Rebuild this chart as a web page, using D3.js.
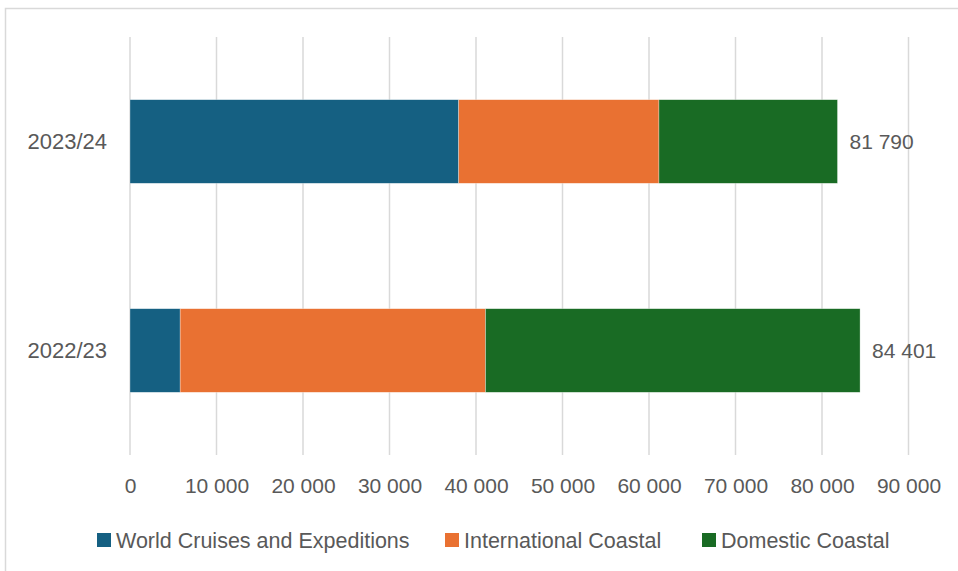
<!DOCTYPE html>
<html>
<head>
<meta charset="utf-8">
<script src="https://cdn.jsdelivr.net/npm/d3@7"></script>
<style>
  html, body { margin: 0; padding: 0; background: #fff; }
  svg { display: block; }
  text { font-family: "Liberation Sans", Arial, sans-serif; fill: #595959; }
</style>
</head>
<body>
<svg id="chart" width="958" height="571"></svg>
<script>
// Passenger numbers by season, stacked by segment
const seasons = ["2023/24", "2022/23"];
const seriesNames = ["World Cruises and Expeditions", "International Coastal", "Domestic Coastal"];
const worldCruises = [38000, 5800];
const internationalCoastal = [23150, 35300];
const domesticCoastal = [20640, 43301];
const totals = [81790, 84401];
const xTicks = [0, 10000, 20000, 30000, 40000, 50000, 60000, 70000, 80000, 90000];
const colors = ["#156082", "#E97132", "#196B24"];

const svg = d3.select("#chart");

// outer chart frame
svg.append("rect")
  .attr("x", 5.5).attr("y", 8.5)
  .attr("width", 1000).attr("height", 600)
  .attr("fill", "none").attr("stroke", "#d9d9d9").attr("stroke-width", 1.5);

const plot = { left: 130, right: 908.5, top: 37, bottom: 455 };

const x = d3.scaleLinear().domain([0, 90000]).range([plot.left, plot.right]);
const y = d3.scaleBand().domain(seasons).range([plot.top, plot.bottom])
  .paddingInner(0.6).paddingOuter(0.3);

// vertical gridlines
svg.append("g").selectAll("line").data(xTicks).join("line")
  .attr("x1", d => x(d)).attr("x2", d => x(d))
  .attr("y1", plot.top).attr("y2", plot.bottom)
  .attr("stroke", "#d9d9d9").attr("stroke-width", 1.5);

// stacked bars
const rows = seasons.map((s, i) => ({
  season: s,
  "World Cruises and Expeditions": worldCruises[i],
  "International Coastal": internationalCoastal[i],
  "Domestic Coastal": domesticCoastal[i]
}));
const stack = d3.stack().keys(seriesNames)(rows);

svg.append("g").selectAll("g").data(stack).join("g")
  .attr("fill", (d, i) => colors[i])
  .selectAll("rect").data(d => d).join("rect")
  .attr("x", d => x(d[0]))
  .attr("y", d => y(d.data.season))
  .attr("width", d => x(d[1]) - x(d[0]))
  .attr("height", y.bandwidth())
  .attr("stroke", "#ffffff").attr("stroke-width", 0.6).attr("stroke-opacity", 0.5);

const fmtNum = v => d3.format(",")(v).replace(/,/g, " ");

// total labels
svg.append("g").selectAll("text").data(seasons).join("text")
  .attr("x", (d, i) => x(totals[i]) + 12)
  .attr("y", d => y(d) + y.bandwidth() / 2)
  .attr("dy", "0.35em")
  .attr("font-size", 21)
  .text((d, i) => fmtNum(totals[i]));

// category axis labels
svg.append("g").selectAll("text").data(seasons).join("text")
  .attr("x", 107)
  .attr("y", d => y(d) + y.bandwidth() / 2)
  .attr("dy", "0.35em")
  .attr("text-anchor", "end")
  .attr("font-size", 22)
  .text(d => d);

// value axis
const xAxis = d3.axisBottom(x).tickValues(xTicks).tickSize(0).tickPadding(0)
  .tickFormat(fmtNum);
const ax = svg.append("g").attr("transform", `translate(0,${plot.bottom + 31})`).call(xAxis);
ax.select(".domain").remove();
ax.selectAll("text")
  .attr("font-size", 21)
  .attr("font-family", "Liberation Sans, Arial, sans-serif")
  .attr("fill", "#595959")
  .attr("dy", "0.35em")
  .attr("y", 0);

// legend
const legendX = [97, 445, 702];
const lg = svg.append("g").selectAll("g").data(seriesNames).join("g")
  .attr("transform", (d, i) => `translate(${legendX[i]},533)`);
lg.append("rect").attr("width", 14).attr("height", 14).attr("fill", (d, i) => colors[i]);
lg.append("text").attr("x", 19).attr("y", 7).attr("dy", "0.35em")
  .attr("font-size", 21.5).text(d => d);
</script>
</body>
</html>
